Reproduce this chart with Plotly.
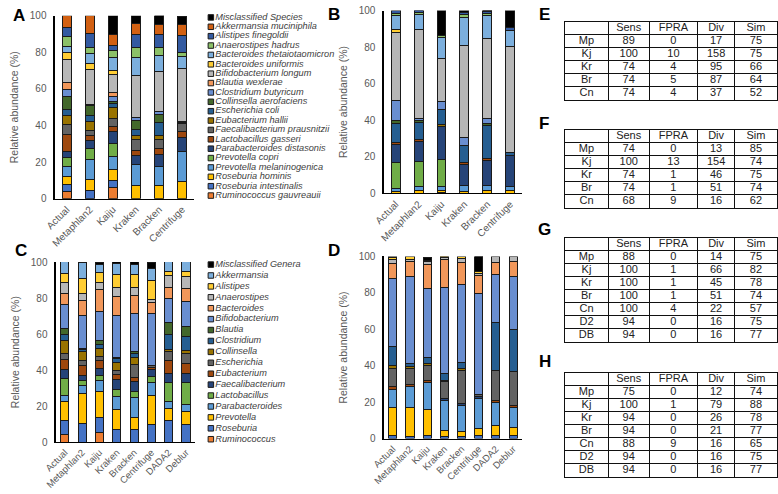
import plotly.graph_objects as go

W, H = 778, 494
def fx(p): return p / W
def fy(p): return 1 - p / H

FONT = "Liberation Sans, Arial, sans-serif"
GREY = "#595959"

# ---------------- species level (panels A, B) ----------------
species = ["Misclassified Species", "Akkermansia muciniphila", "Alistipes finegoldii",
           "Anaerostipes hadrus", "Bacteroides thetaiotaomicron", "Bacteroides uniformis",
           "Bifidobacterium longum", "Blautia wexlerae", "Clostridium butyricum",
           "Collinsella aerofaciens", "Escherichia coli", "Eubacterium hallii",
           "Faecalibacterium prausnitzii", "Lactobacillus gasseri", "Parabacteroides distasonis",
           "Prevotella copri", "Prevotella melaninogenica", "Roseburia hominis",
           "Roseburia intestinalis", "Ruminococcus gauvreauii"]
species_colors = ["#000000", "#D26012", "#335AA1", "#8CC168", "#7CAFDD", "#FFCD33",
                  "#B7B7B7", "#F1975A", "#698ED0", "#43682B", "#255E91", "#997300",
                  "#636363", "#9E480E", "#264478", "#70AD47", "#5B9BD5", "#FFC000",
                  "#4472C4", "#ED7D31"]
samples_ab = ["Actual", "Metaphlan2", "Kaiju", "Kraken", "Bracken", "Centrifuge"]

# values per sample, in legend order (top of stack first)
a_actual     = [0, 6.2, 5.0, 5.7, 3.0, 3.7, 12.8, 3.6, 3.9, 7.1, 3.2, 5.3, 5.3, 9.2, 3.6, 4.6, 5.3, 4.8, 3.9, 3.7]
a_metaphlan2 = [0, 9.4, 7.8, 3.6, 5.0, 3.6, 19.2, 0, 0.5, 5.3, 3.2, 5.0, 2.5, 3.2, 4.4, 5.9, 10.7, 6.2, 4.4, 0]
a_kaiju      = [10.1, 6.4, 2.5, 4.1, 7.1, 1.8, 9.8, 2.7, 2.3, 1.2, 2.3, 5.7, 4.8, 2.3, 7.1, 6.6, 7.1, 6.2, 4.1, 5.9]
a_kraken     = [4.4, 6.2, 7.1, 5.0, 10.1, 0, 22.7, 0, 1.8, 4.8, 3.2, 2.7, 5.7, 2.7, 5.0, 0, 11.4, 7.3, 0, 0]
a_bracken    = [4.8, 5.9, 6.7, 4.3, 9.1, 0, 21.7, 0, 1.8, 4.1, 7.5, 1.8, 5.3, 3.2, 6.6, 0, 10.3, 7.1, 0, 0]
a_centrifuge = [4.4, 6.2, 9.4, 2.1, 6.2, 0, 29.0, 0, 0, 0.5, 1.0, 0, 4.3, 3.2, 7.5, 0, 16.5, 9.4, 0, 0]

b_actual     = [0, 0, 1.4, 1.4, 7.7, 1.2, 37.4, 0, 10.7, 1.8, 10.3, 0, 0, 1.2, 10.1, 13.9, 1.8, 1.0, 0, 0]
b_metaphlan2 = [0, 0, 1.1, 0.9, 8.4, 0, 48.6, 0, 1.2, 1.1, 9.6, 0, 0, 1.1, 10.7, 13.7, 2.3, 1.4, 0, 0]
b_kaiju      = [13.5, 0, 0, 1.2, 11.6, 0, 23.7, 0, 4.1, 0, 8.4, 1.2, 0, 0, 17.8, 14.9, 2.1, 1.0, 0, 0.5]
b_kraken     = [1.1, 0, 1.2, 1.4, 15.1, 0, 50.7, 0, 4.4, 0, 9.3, 0, 0, 0.7, 11.7, 0, 3.2, 1.1, 0, 0]
b_bracken    = [0.4, 0, 1.1, 1.4, 12.5, 0, 43.6, 0, 3.0, 1.1, 18.1, 0, 0, 0.9, 13.9, 0, 2.7, 1.4, 0, 0]
b_centrifuge = [9.2, 0, 1.6, 0, 8.9, 0, 57.8, 0, 0, 0, 1.6, 0, 0, 0, 17.1, 0, 2.4, 1.3, 0, 0]

# ---------------- genus level (panels C, D) ----------------
genera = ["Misclassified Genera", "Akkermansia", "Alistipes", "Anaerostipes", "Bacteroides",
          "Bifidobacterium", "Blautia", "Clostridium", "Collinsella", "Escherichia",
          "Eubacterium", "Faecalibacterium", "Lactobacillus", "Parabacteroides",
          "Prevotella", "Roseburia", "Ruminococcus"]
genus_colors = ["#000000", "#7CAFDD", "#FFCD33", "#B7B7B7", "#F1975A", "#698ED0", "#43682B",
                "#255E91", "#997300", "#636363", "#9E480E", "#264478", "#70AD47", "#5B9BD5",
                "#FFC000", "#4472C4", "#ED7D31"]
samples_cd = ["Actual", "Metaphlan2", "Kaiju", "Kraken", "Bracken", "Centrifuge", "DADA2", "Deblur"]

c_actual     = [0, 6.5, 4.9, 6.0, 6.3, 13.0, 3.6, 3.6, 7.2, 3.1, 5.4, 5.1, 9.4, 3.6, 10.1, 8.1, 4.2]
c_metaphlan2 = [0, 9.2, 8.5, 3.6, 8.1, 18.6, 0.7, 1.1, 4.9, 2.7, 5.4, 2.7, 3.1, 4.2, 16.6, 10.6, 0]
c_kaiju      = [1.1, 4.9, 5.4, 3.6, 12.6, 15.7, 2.3, 2.2, 4.5, 2.3, 4.5, 4.0, 2.9, 6.1, 14.1, 8.7, 5.1]
c_kraken     = [1.1, 6.1, 6.9, 5.1, 10.8, 22.9, 0.9, 1.8, 4.5, 2.7, 2.7, 5.4, 4.0, 6.9, 11.4, 6.9, 0]
c_bracken    = [1.4, 5.8, 6.9, 4.5, 9.9, 21.3, 0.9, 2.2, 4.2, 7.2, 2.2, 5.4, 3.6, 10.8, 6.9, 6.9, 0]
c_centrifuge = [3.2, 6.9, 10.3, 1.8, 6.0, 29.2, 0, 0, 0, 1.0, 1.0, 4.2, 3.1, 7.4, 16.1, 9.7, 0]
c_dada2      = [0, 5.1, 2.7, 6.3, 6.3, 13.2, 6.7, 8.1, 1.4, 4.9, 7.2, 4.9, 10.5, 4.0, 6.9, 11.9, 0]
c_deblur     = [0, 5.4, 2.9, 6.7, 6.9, 13.9, 5.8, 7.8, 1.3, 6.0, 5.4, 5.1, 12.1, 3.6, 7.6, 9.7, 0]

d_actual     = [0, 0.4, 0.9, 2.3, 8.4, 37.1, 0, 10.7, 1.8, 9.8, 1.8, 0, 0, 9.8, 15.5, 1.4, 0]
d_metaphlan2 = [0, 0, 1.4, 1.2, 8.0, 48.2, 0, 1.2, 1.1, 8.9, 1.2, 0, 0, 11.3, 16.1, 1.2, 0]
d_kaiju      = [1.8, 0, 0.9, 1.2, 13.4, 38.0, 0, 3.2, 1.2, 8.0, 1.2, 0, 0, 14.8, 14.6, 1.4, 0]
d_kraken     = [0, 0, 0.7, 0.7, 15.9, 47.0, 0, 3.6, 0.9, 9.3, 0, 1.1, 0, 16.4, 3.2, 1.2, 0]
d_bracken    = [0, 0, 1.2, 1.8, 12.1, 43.2, 0, 3.2, 0.9, 18.2, 0, 0.9, 0, 14.5, 2.7, 1.2, 0]
d_centrifuge = [8.4, 0, 1.1, 0.7, 10.0, 55.7, 0, 0, 0, 1.2, 0, 0.9, 0, 16.6, 3.6, 1.8, 0]
d_dada2      = [0, 0, 0, 3.0, 6.8, 26.4, 0, 26.3, 0, 16.4, 1.4, 0, 0, 12.5, 5.7, 1.4, 0]
d_deblur     = [0, 0, 0, 2.9, 7.9, 29.2, 0, 23.3, 0, 18.3, 1.4, 0, 0, 10.8, 4.8, 1.4, 0]

# ---------------- tables (E-H) ----------------
table_header = ["", "Sens", "FPRA", "Div", "Sim"]
table_colwidths = [44, 42, 49, 38, 43]
rows_5 = ["Mp", "Kj", "Kr", "Br", "Cn"]
rows_7 = ["Mp", "Kj", "Kr", "Br", "Cn", "D2", "DB"]
e_sens = [89, 100, 74, 74, 74]; e_fpra = [0, 10, 4, 5, 4]; e_div = [17, 158, 95, 87, 37]; e_sim = [75, 75, 66, 64, 52]
f_sens = [74, 100, 74, 74, 68]; f_fpra = [0, 13, 1, 1, 9]; f_div = [13, 154, 46, 51, 16]; f_sim = [85, 74, 75, 74, 62]
g_sens = [88, 100, 100, 100, 100, 94, 94]; g_fpra = [0, 1, 1, 1, 4, 0, 0]
g_div = [14, 66, 45, 51, 22, 16, 16]; g_sim = [75, 82, 78, 74, 57, 75, 77]
h_sens = [75, 100, 94, 94, 88, 94, 94]; h_fpra = [0, 1, 0, 0, 9, 0, 0]
h_div = [12, 79, 26, 21, 16, 16, 16]; h_sim = [74, 88, 78, 77, 65, 75, 77]

fig = go.Figure()

def add_stack(samples, names, colors, columns, xa, ya, barw):
    n = len(names)
    for i in reversed(range(n)):
        vals = [col[i] if col[i] else None for col in columns]
        fig.add_trace(go.Bar(x=samples, y=vals, name=names[i], width=barw,
                             marker=dict(color=colors[i], line=dict(color="#1a1a1a", width=1)),
                             xaxis=xa, yaxis=ya, showlegend=False))

add_stack(samples_ab, species, species_colors,
          [a_actual, a_metaphlan2, a_kaiju, a_kraken, a_bracken, a_centrifuge], "x", "y", 0.39)
add_stack(samples_ab, species, species_colors,
          [b_actual, b_metaphlan2, b_kaiju, b_kraken, b_bracken, b_centrifuge], "x2", "y2", 0.39)
add_stack(samples_cd, genera, genus_colors,
          [c_actual, c_metaphlan2, c_kaiju, c_kraken, c_bracken, c_centrifuge, c_dada2, c_deblur], "x3", "y3", 0.47)
add_stack(samples_cd, genera, genus_colors,
          [d_actual, d_metaphlan2, d_kaiju, d_kraken, d_bracken, d_centrifuge, d_dada2, d_deblur], "x4", "y4", 0.47)

# keys (legends) as marker+text traces
def add_key(names, colors, xa, ya):
    fig.add_trace(go.Scatter(x=[5.5] * len(names), y=list(range(len(names))), mode="markers+text",
                             text=names, textposition="middle right",
                             textfont=dict(family=FONT, size=9.2, color="#404040", style="italic"),
                             marker=dict(symbol="square", size=5.5, color=colors,
                                         line=dict(color="#1a1a1a", width=1)),
                             xaxis=xa, yaxis=ya, showlegend=False, cliponaxis=False, hoverinfo="skip"))

add_key(species, species_colors, "x5", "y5")
add_key(genera, genus_colors, "x6", "y6")

# tables drawn on their own axes: grid lines are the cell borders
col_edges = [0]
for w in table_colwidths:
    col_edges.append(col_edges[-1] + w)
col_centers = [(col_edges[i] + col_edges[i + 1]) / 2 for i in range(len(table_colwidths))]

def add_table(rows, cols, xa, ya):
    xs, ys, ts = [], [], []
    for j, h in enumerate(table_header):
        xs.append(col_centers[j]); ys.append(0.5); ts.append(h)
    columns = [rows] + cols
    for j, col in enumerate(columns):
        for r, v in enumerate(col):
            xs.append(col_centers[j]); ys.append(r + 1.5); ts.append(str(v))
    fig.add_trace(go.Scatter(x=xs, y=ys, text=ts, mode="text", textposition="middle center",
                             textfont=dict(family=FONT, size=11, color="#222222"),
                             xaxis=xa, yaxis=ya, showlegend=False, hoverinfo="skip", cliponaxis=False))

add_table(rows_5, [e_sens, e_fpra, e_div, e_sim], "x7", "y7")
add_table(rows_5, [f_sens, f_fpra, f_div, f_sim], "x8", "y8")
add_table(rows_7, [g_sens, g_fpra, g_div, g_sim], "x9", "y9")
add_table(rows_7, [h_sens, h_fpra, h_div, h_sim], "x10", "y10")

xcommon = dict(showline=True, linecolor="black", linewidth=1.3, ticks="", showgrid=False,
               tickangle=-45, tickfont=dict(family=FONT, size=10, color=GREY), fixedrange=True)
ycommon = dict(showline=True, linecolor="black", linewidth=1.5, ticks="", showgrid=False,
               range=[0, 100], tickvals=[0, 20, 40, 60, 80, 100], zeroline=False,
               ticklabelstandoff=5,
               tickfont=dict(family=FONT, size=10, color=GREY), fixedrange=True,
               title=dict(text="Relative abundance (%)", standoff=9,
                          font=dict(family=FONT, size=10.5, color=GREY)))
xcommon_cd = dict(xcommon, tickfont=dict(family=FONT, size=9.5, color=GREY))

def table_axes(top, nrows):
    rh = 13.33
    bottom = top + rh * (nrows + 1)
    xa = dict(domain=[fx(562), fx(778)], range=[0, col_edges[-1]], tickvals=col_edges[1:-1],
              showgrid=True, gridcolor="#111111", gridwidth=1, showticklabels=False, ticks="",
              showline=True, mirror=True, linecolor="#111111", linewidth=1, zeroline=False,
              fixedrange=True)
    ya = dict(domain=[fy(bottom), fy(top)], range=[nrows + 1, 0], tickvals=list(range(1, nrows + 1)),
              showgrid=True, gridcolor="#111111", gridwidth=1, showticklabels=False, ticks="",
              showline=True, mirror=True, linecolor="#111111", linewidth=1, zeroline=False,
              fixedrange=True)
    return xa, ya

tx7, ty7 = table_axes(16, 5)
tx8, ty8 = table_axes(127, 5)
tx9, ty9 = table_axes(237.3, 7)
tx10, ty10 = table_axes(376, 7)

layout = dict(
    width=W, height=H, autosize=False, margin=dict(l=0, r=0, t=0, b=0),
    paper_bgcolor="white", plot_bgcolor="white", barmode="stack", showlegend=False,
    xaxis=dict(domain=[fx(43), fx(184)], anchor="y", **xcommon),
    yaxis=dict(domain=[fy(197.5), fy(10)], anchor="x", **ycommon),
    xaxis2=dict(domain=[fx(378), fx(518)], anchor="y2", **xcommon),
    yaxis2=dict(domain=[fy(192), fy(4.7)], anchor="x2", **ycommon),
    xaxis3=dict(domain=[fx(44), fx(185)], anchor="y3", **xcommon_cd),
    yaxis3=dict(domain=[fy(447), fy(262.5)], anchor="x3", **ycommon),
    xaxis4=dict(domain=[fx(378), fx(518)], anchor="y4", **xcommon_cd),
    yaxis4=dict(domain=[fy(443.3), fy(256.7)], anchor="x4", **ycommon),
    xaxis5=dict(domain=[fx(196), fx(330)], range=[0, 134], visible=False, anchor="y5", fixedrange=True),
    yaxis5=dict(domain=[fy(199.1), fy(6.9)], range=[19.5, -0.5], visible=False, anchor="x5", fixedrange=True),
    xaxis6=dict(domain=[fx(196), fx(330)], range=[0, 134], visible=False, anchor="y6", fixedrange=True),
    yaxis6=dict(domain=[fy(449.6), fy(259.4)], range=[16.5, -0.5], visible=False, anchor="x6", fixedrange=True),
    xaxis7=dict(anchor="y7", **tx7), yaxis7=dict(anchor="x7", **ty7),
    xaxis8=dict(anchor="y8", **tx8), yaxis8=dict(anchor="x8", **ty8),
    xaxis9=dict(anchor="y9", **tx9), yaxis9=dict(anchor="x9", **ty9),
    xaxis10=dict(anchor="y10", **tx10), yaxis10=dict(anchor="x10", **ty10),
)
fig.update_layout(**layout)

labels = [("A", 6, 10), ("B", 327, 9), ("C", 8, 251), ("D", 327, 251),
          ("E", 541, 9), ("F", 541, 120), ("G", 541, 229), ("H", 542, 364)]
for t, x, y in labels:
    fig.add_annotation(text="<b>%s</b>" % t, x=fx(x), y=fy(y), xref="paper", yref="paper",
                       xanchor="center", yanchor="middle", showarrow=False,
                       font=dict(family=FONT, size=17, color="black"))

fig.write_html("out.html", config={"displayModeBar": False},
               post_script="document.body.style.margin='0px';")
